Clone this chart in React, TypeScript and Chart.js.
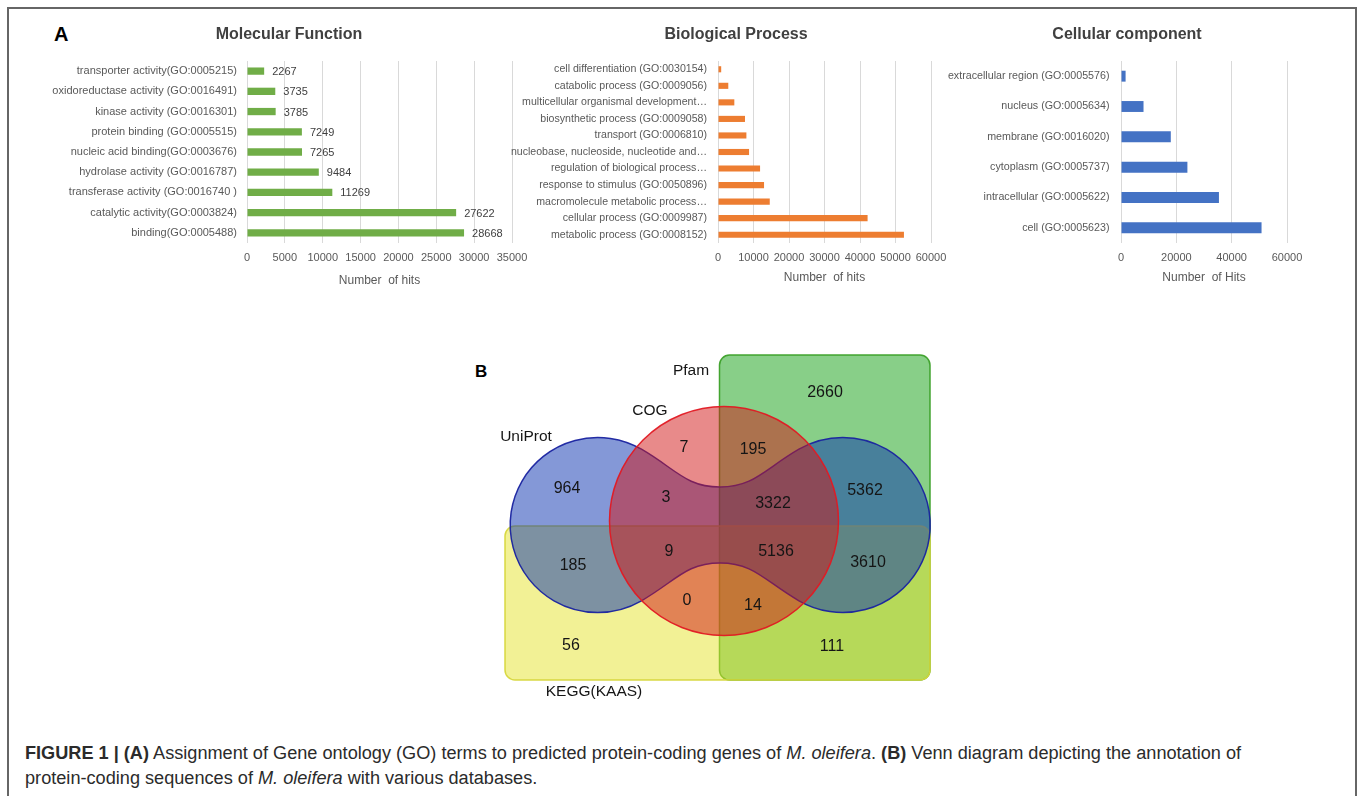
import React, { useEffect, useRef } from "react";
import { Chart, registerables } from "chart.js";

Chart.register(...registerables);

const FONT = "'Liberation Sans', Arial, Helvetica, sans-serif";

// ---------- Panel A: Molecular Function ----------
const mfCategories = [
  "transporter activity(GO:0005215)",
  "oxidoreductase activity (GO:0016491)",
  "kinase activity (GO:0016301)",
  "protein binding (GO:0005515)",
  "nucleic acid binding(GO:0003676)",
  "hydrolase activity (GO:0016787)",
  "transferase activity (GO:0016740 )",
  "catalytic activity(GO:0003824)",
  "binding(GO:0005488)",
];
const mfHits = [2267, 3735, 3785, 7249, 7265, 9484, 11269, 27622, 28668];
const mfAxisMax = 35000;
const mfAxisStep = 5000;

// ---------- Panel A: Biological Process ----------
const bpCategories = [
  "cell differentiation (GO:0030154)",
  "catabolic process (GO:0009056)",
  "multicellular organismal development…",
  "biosynthetic process (GO:0009058)",
  "transport (GO:0006810)",
  "nucleobase, nucleoside, nucleotide and…",
  "regulation of biological process…",
  "response to stimulus (GO:0050896)",
  "macromolecule metabolic process…",
  "cellular process (GO:0009987)",
  "metabolic process (GO:0008152)",
];
const bpHits = [900, 2900, 4600, 7600, 8000, 8750, 11850, 12970, 14580, 42140, 52380];
const bpAxisMax = 60000;
const bpAxisStep = 10000;

// ---------- Panel A: Cellular component ----------
const ccCategories = [
  "extracellular region (GO:0005576)",
  "nucleus (GO:0005634)",
  "membrane (GO:0016020)",
  "cytoplasm (GO:0005737)",
  "intracellular (GO:0005622)",
  "cell (GO:0005623)",
];
const ccHits = [1660, 8140, 18000, 24000, 35400, 50800];
const ccAxisMax = 60000;
const ccAxisStep = 20000;

// ---------- Panel B: Venn diagram ----------
const vennSetNames = ["Pfam", "COG", "UniProt", "KEGG(KAAS)"];
const vennRegionNames = [
  "Pfam only", "COG only", "COG∩Pfam", "UniProt only", "UniProt∩COG",
  "UniProt∩COG∩Pfam", "UniProt∩Pfam", "UniProt∩COG∩KEGG", "all four",
  "UniProt∩KEGG", "UniProt∩Pfam∩KEGG", "COG∩KEGG", "COG∩Pfam∩KEGG",
  "KEGG only", "Pfam∩KEGG",
];
const vennRegionCounts = [2660, 7, 195, 964, 3, 3322, 5362, 9, 5136, 185, 3610, 0, 14, 56, 111];

// layout (page coordinates) for the Venn drawing
const VENN_BOX = { left: 470, top: 345, width: 480, height: 365 };
const VENN_COUNT_POS = [
  [825, 393], [684, 448], [753, 450], [567, 489], [666, 498],
  [773, 504], [865, 491], [669, 552], [776, 552], [573, 566],
  [868, 563], [687, 601], [753, 606], [571, 646], [832, 647],
];
const VENN_SET_LABEL_POS = [[691, 371], [650, 411], [526, 437], [594, 692]];

type BarProps = {
  left: number; top: number; width: number; height: number;
  categories: string[]; values: number[]; color: string;
  max: number; step: number; title: string; titleX: number;
  axisTitle: string; yWidth: number; rightPad: number; barPct: number;
  axisTitlePad: number; showValues: boolean; labelSize: number; labelPad: number;
};

function BarPanel(p: BarProps) {
  const ref = useRef<HTMLCanvasElement>(null);
  useEffect(() => {
    const titlePlugin = {
      id: "panelTitle",
      afterDraw(chart: any) {
        const ctx = chart.ctx;
        ctx.save();
        ctx.font = `bold 16px ${FONT}`;
        ctx.fillStyle = "#404040";
        ctx.textAlign = "center";
        ctx.textBaseline = "middle";
        ctx.fillText(p.title, p.titleX - p.left, 35 - p.top);
        ctx.restore();
      },
    };
    const valuePlugin = {
      id: "valueLabels",
      afterDatasetsDraw(chart: any) {
        if (!p.showValues) return;
        const ctx = chart.ctx;
        const meta = chart.getDatasetMeta(0);
        ctx.save();
        ctx.font = `11px ${FONT}`;
        ctx.fillStyle = "#404040";
        ctx.textAlign = "left";
        ctx.textBaseline = "middle";
        meta.data.forEach((el: any, i: number) => {
          ctx.fillText(String(p.values[i]), el.x + 8, el.y + 1);
        });
        ctx.restore();
      },
    };
    const chart = new Chart(ref.current as HTMLCanvasElement, {
      type: "bar",
      data: {
        labels: p.categories,
        datasets: [
          {
            data: p.values,
            backgroundColor: p.color,
            barPercentage: p.barPct,
            categoryPercentage: 1,
          },
        ],
      },
      options: {
        indexAxis: "y",
        responsive: false,
        animation: false,
        devicePixelRatio: 1,
        layout: { padding: { top: 61 - p.top, right: p.rightPad, left: 0, bottom: 0 } },
        plugins: {
          legend: { display: false },
          tooltip: { enabled: false },
          title: { display: false },
        },
        scales: {
          x: {
            min: 0,
            max: p.max,
            ticks: {
              stepSize: p.step,
              color: "#595959",
              font: { family: FONT, size: 11 },
              padding: 8,
              maxRotation: 0,
              callback: (v: any) => String(v),
            },
            grid: { color: "#d9d9d9", drawTicks: false, lineWidth: 1 },
            border: { display: false },
            title: {
              display: true,
              text: p.axisTitle,
              color: "#595959",
              font: { family: FONT, size: 12 },
              padding: { top: 0, bottom: p.axisTitlePad },
            },
            afterFit: (s: any) => {
              s.height = 50;
            },
          },
          y: {
            grid: { display: false, drawTicks: false },
            border: { display: false },
            ticks: {
              color: "#595959",
              font: { family: FONT, size: p.labelSize },
              padding: p.labelPad,
              autoSkip: false,
            },
            afterFit: (s: any) => {
              s.width = p.yWidth;
            },
          },
        },
      } as any,
      plugins: [titlePlugin, valuePlugin],
    });
    return () => chart.destroy();
  }, []);
  return (
    <canvas
      ref={ref}
      width={p.width}
      height={p.height}
      style={{ position: "absolute", left: p.left, top: p.top, width: p.width, height: p.height }}
    />
  );
}

function VennPanel() {
  const ref = useRef<HTMLCanvasElement>(null);
  useEffect(() => {
    const vennPlugin = {
      id: "venn",
      afterDatasetsDraw(chart: any) {
        const ctx: CanvasRenderingContext2D = chart.ctx;
        const xs = chart.scales.x;
        const ys = chart.scales.y;
        const X = (v: number) => xs.getPixelForValue(v);
        const Y = (v: number) => ys.getPixelForValue(v);
        const L = (d: number) => X(VENN_BOX.left + d) - X(VENN_BOX.left);
        ctx.save();
        ctx.lineWidth = 1.5;

        // Pfam (green rounded rectangle)
        ctx.beginPath();
        (ctx as any).roundRect(X(719.5), Y(355), L(930 - 719.5), L(680 - 355), L(10));
        ctx.fillStyle = "rgba(17,159,17,0.5)";
        ctx.fill();
        ctx.strokeStyle = "rgba(60,160,40,0.95)";
        ctx.stroke();

        // KEGG (yellow rounded rectangle)
        ctx.beginPath();
        (ctx as any).roundRect(X(505), Y(526), L(930 - 505), L(680 - 526), L(10));
        ctx.fillStyle = "rgba(230,227,44,0.5)";
        ctx.fill();
        ctx.strokeStyle = "rgba(215,215,60,0.95)";
        ctx.stroke();

        // UniProt (blue dumbbell)
        const lx = 597.7, rx = 842.7, cy = 525, r = 87.5, nx = 720, nTop = 487, nBot = 563;
        const c60 = Math.cos(Math.PI / 3) * r, s60 = Math.sin(Math.PI / 3) * r;
        ctx.beginPath();
        ctx.moveTo(X(lx + c60), Y(cy - s60));
        ctx.arc(X(lx), Y(cy), L(r), -Math.PI / 3, Math.PI / 3, true);
        ctx.bezierCurveTo(X(lx + c60 + 34.6), Y(cy + s60 - 20), X(nx - 34), Y(nBot), X(nx), Y(nBot));
        ctx.bezierCurveTo(X(nx + 34), Y(nBot), X(rx - c60 - 34.6), Y(cy + s60 - 20), X(rx - c60), Y(cy + s60));
        ctx.arc(X(rx), Y(cy), L(r), (2 * Math.PI) / 3, -(2 * Math.PI) / 3, true);
        ctx.bezierCurveTo(X(rx - c60 - 34.6), Y(cy - s60 + 20), X(nx + 34), Y(nTop), X(nx), Y(nTop));
        ctx.bezierCurveTo(X(nx - 34), Y(nTop), X(lx + c60 + 34.6), Y(cy - s60 + 20), X(lx + c60), Y(cy - s60));
        ctx.closePath();
        ctx.fillStyle = "rgba(10,50,175,0.5)";
        ctx.fill();
        ctx.strokeStyle = "rgba(25,35,160,0.95)";
        ctx.stroke();

        // COG (red circle)
        ctx.beginPath();
        ctx.arc(X(724), Y(521), L(114.5), 0, Math.PI * 2);
        ctx.fillStyle = "rgba(209,21,21,0.5)";
        ctx.fill();
        ctx.strokeStyle = "rgba(225,25,35,0.95)";
        ctx.stroke();

        // region counts
        ctx.fillStyle = "#151515";
        ctx.textAlign = "center";
        ctx.textBaseline = "middle";
        ctx.font = `16px ${FONT}`;
        vennRegionCounts.forEach((v, i) => {
          const [px, py] = VENN_COUNT_POS[i];
          ctx.fillText(String(v), X(px), Y(py));
        });
        // set names
        ctx.font = `15.5px ${FONT}`;
        vennSetNames.forEach((n, i) => {
          const [px, py] = VENN_SET_LABEL_POS[i];
          ctx.fillText(n, X(px), Y(py));
        });
        ctx.restore();
      },
    };
    const chart = new Chart(ref.current as HTMLCanvasElement, {
      type: "scatter",
      data: { datasets: [{ label: vennRegionNames.join(","), data: [] }] },
      options: {
        responsive: false,
        animation: false,
        devicePixelRatio: 1,
        layout: { padding: 0 },
        plugins: { legend: { display: false }, tooltip: { enabled: false } },
        scales: {
          x: { type: "linear", display: false, min: VENN_BOX.left, max: VENN_BOX.left + VENN_BOX.width },
          y: { type: "linear", display: false, reverse: true, min: VENN_BOX.top, max: VENN_BOX.top + VENN_BOX.height },
        },
      } as any,
      plugins: [vennPlugin],
    });
    return () => chart.destroy();
  }, []);
  return (
    <canvas
      ref={ref}
      width={VENN_BOX.width}
      height={VENN_BOX.height}
      style={{ position: "absolute", left: VENN_BOX.left, top: VENN_BOX.top, width: VENN_BOX.width, height: VENN_BOX.height }}
    />
  );
}

export default function App() {
  return (
    <div
      style={{
        position: "absolute",
        left: 0,
        top: 0,
        width: 1358,
        height: 796,
        overflow: "hidden",
        background: "#fff",
        fontFamily: FONT,
      }}
    >
      <div
        style={{
          position: "absolute",
          left: 7,
          top: 7,
          width: 1346,
          height: 820,
          borderLeft: "2px solid #666",
          borderTop: "2px solid #666",
          borderRight: "2px solid #666",
        }}
      />
      <div style={{ position: "absolute", left: 54, top: 24, fontSize: 20, lineHeight: "20px", fontWeight: "bold", color: "#000" }}>
        A
      </div>
      <div style={{ position: "absolute", left: 475, top: 363, fontSize: 17, lineHeight: "17px", fontWeight: "bold", color: "#000" }}>
        B
      </div>

      <BarPanel
        left={40} top={20} width={498} height={273}
        categories={mfCategories} values={mfHits} color="#70ad47"
        max={mfAxisMax} step={mfAxisStep}
        title="Molecular Function" titleX={289}
        axisTitle="Number  of hits" yWidth={207} rightPad={26} barPct={0.36}
        axisTitlePad={5} showValues={true} labelSize={11} labelPad={10}
      />
      <BarPanel
        left={500} top={20} width={457} height={273}
        categories={bpCategories} values={bpHits} color="#ed7d31"
        max={bpAxisMax} step={bpAxisStep}
        title="Biological Process" titleX={736}
        axisTitle="Number  of hits" yWidth={218} rightPad={26} barPct={0.37}
        axisTitlePad={8} showValues={false} labelSize={10.6} labelPad={11}
      />
      <BarPanel
        left={935} top={20} width={379} height={273}
        categories={ccCategories} values={ccHits} color="#4472c4"
        max={ccAxisMax} step={ccAxisStep}
        title="Cellular component" titleX={1127}
        axisTitle="Number  of Hits" yWidth={186} rightPad={27} barPct={0.36}
        axisTitlePad={8} showValues={false} labelSize={10.7} labelPad={11.5}
      />

      <VennPanel />

      <div
        style={{
          position: "absolute",
          left: 25,
          top: 741,
          fontSize: 18.15,
          lineHeight: "25px",
          color: "#2b2b2b",
          whiteSpace: "nowrap",
        }}
      >
        <b>FIGURE 1 | (A)</b> Assignment of Gene ontology (GO) terms to predicted protein-coding genes of{" "}
        <i>M. oleifera</i>. <b>(B)</b> Venn diagram depicting the annotation of
        <br />
        protein-coding sequences of <i>M. oleifera</i> with various databases.
      </div>
    </div>
  );
}
